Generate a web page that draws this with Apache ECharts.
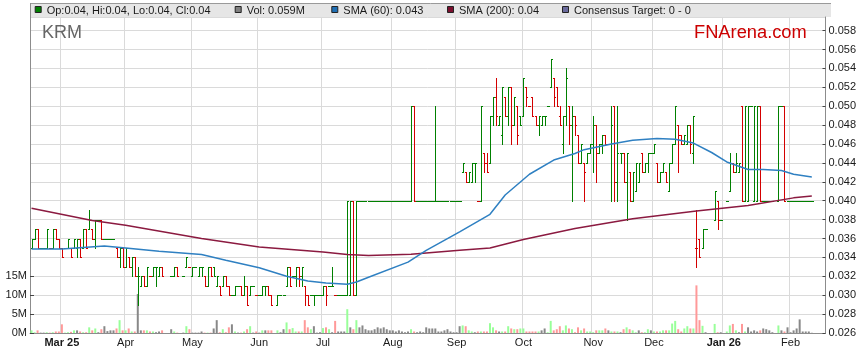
<!DOCTYPE html>
<html><head><meta charset="utf-8">
<script src="https://cdn.jsdelivr.net/npm/echarts@6/dist/echarts.min.js"></script>
<style>html,body{margin:0;padding:0;background:#fff}#c{width:859px;height:363px}</style>
</head><body><div id="c"></div>
<script>
// ---- data ----
const firstTradingSlot = '2025-02-17';   // first weekday slot on the x axis
const slotCount = 262;                     // weekday slots shown
const monthTickLabels = ['Mar 25','Apr','May','Jun','Jul','Aug','Sep','Oct','Nov','Dec','Jan 26','Feb'];
const boldTickLabels = ['Mar 25','Jan 26'];
const volumeTickValues = [0, 5, 10, 15];   // millions

// [open, high, low, close] per weekday slot, null = no trading
const priceBars = [
/*0*/ [.035,.036,.035,.036],[.036,.037,.036,.037],[.037,.037,.035,.035],[.035,.035,.035,.035],[.035,.035,.035,.035],
/*5*/ [.035,.037,.035,.037],[.035,.035,.035,.035],[.035,.037,.035,.037],[.037,.037,.036,.036],[.036,.036,.035,.035],
/*10*/[.035,.035,.034,.034],[.035,.035,.035,.035],[.035,.036,.035,.036],[.035,.035,.034,.034],[.035,.036,.035,.036],
/*15*/[.035,.036,.034,.036],[.036,.036,.034,.034],[.035,.037,.035,.037],[.037,.037,.035,.035],[.037,.039,.037,.038],
/*20*/[.037,.037,.036,.036],[.036,.038,.035,.038],[.038,.038,.038,.038],[.038,.038,.036,.036],[.036,.036,.036,.036],
/*25*/[.036,.036,.036,.036],[.036,.036,.036,.036],[.036,.036,.036,.036],[.035,.035,.034,.034],[.034,.035,.033,.035],
/*30*/[.035,.035,.033,.033],[.033,.035,.033,.035],[.034,.034,.033,.033],[.033,.034,.032,.034],[.034,.034,.032,.032],
/*35*/[.032,.033,.029,.032],[.031,.032,.031,.032],[.032,.032,.031,.031],[.031,.033,.031,.033],[.032,.032,.032,.032],
/*40*/[.032,.033,.032,.033],[.033,.033,.031,.033],[.032,.033,.032,.033],[.033,.033,.032,.032],null,
/*45*/null,[.032,.032,.032,.032],[.032,.033,.032,.033],[.033,.033,.032,.032],null,
/*50*/[.032,.032,.032,.032],[.033,.034,.033,.034],[.033,.033,.033,.033],[.032,.033,.032,.033],[.033,.033,.033,.033],
/*55*/[.032,.033,.032,.033],[.033,.033,.032,.033],[.032,.032,.031,.031],[.031,.033,.031,.033],[.033,.033,.032,.032],
/*60*/[.033,.033,.032,.032],[.031,.032,.031,.032],[.031,.031,.030,.030],[.031,.032,.031,.032],[.032,.032,.031,.031],
/*65*/[.031,.031,.030,.030],[.030,.030,.030,.030],[.030,.031,.030,.031],[.031,.031,.031,.031],[.031,.031,.030,.030],
/*70*/[.030,.032,.030,.031],[.031,.031,.029,.029],[.030,.031,.030,.031],[.031,.031,.031,.031],[.030,.030,.030,.030],
/*75*/[.030,.030,.030,.030],[.030,.031,.030,.031],[.031,.031,.030,.031],[.031,.031,.030,.030],[.030,.030,.029,.029],
/*80*/null,[.029,.030,.029,.030],[.030,.030,.030,.030],[.030,.030,.030,.030],[.031,.033,.031,.033],
/*85*/[.033,.033,.031,.031],[.032,.032,.032,.032],[.032,.033,.031,.033],[.033,.033,.031,.032],[.032,.033,.031,.033],
/*90*/[.031,.031,.029,.030],[.030,.030,.029,.029],[.030,.030,.030,.030],[.030,.030,.029,.030],[.030,.030,.030,.030],
/*95*/[.030,.030,.030,.030],[.030,.031,.030,.031],[.031,.031,.029,.030],[.031,.031,.031,.031],[.031,.033,.031,.031],
/*100*/[.030,.030,.030,.030],[.030,.030,.030,.030],[.030,.030,.030,.030],[.030,.030,.030,.030],[.030,.040,.030,.040],
/*105*/[.030,.040,.030,.040],[.040,.040,.030,.030],[.030,.040,.030,.040],[.040,.040,.040,.040],[.040,.040,.040,.040],
/*110*/[.040,.040,.040,.040],[.040,.040,.040,.040],[.040,.040,.040,.040],[.040,.040,.040,.040],[.040,.040,.040,.040],
/*115*/[.040,.040,.040,.040],[.040,.040,.040,.040],[.040,.040,.040,.040],[.040,.040,.040,.040],[.040,.040,.040,.040],
/*120*/[.040,.040,.040,.040],[.040,.040,.040,.040],[.040,.040,.040,.040],[.040,.040,.040,.040],[.040,.040,.040,.040],
/*125*/[.040,.050,.040,.050],[.050,.050,.040,.040],[.040,.040,.040,.040],[.040,.040,.040,.040],[.040,.040,.040,.040],
/*130*/[.040,.040,.040,.040],[.040,.040,.040,.040],[.040,.040,.040,.040],[.040,.050,.040,.040],[.040,.040,.040,.040],
/*135*/[.040,.040,.040,.040],[.040,.040,.040,.040],[.040,.040,.040,.040],[.040,.040,.040,.040],[.040,.040,.040,.040],
/*140*/[.040,.040,.040,.040],[.040,.040,.040,.040],[.043,.044,.043,.044],[.043,.043,.042,.042],[.042,.043,.042,.043],
/*145*/[.042,.044,.042,.044],[.044,.044,.042,.044],[.040,.040,.040,.040],[.040,.050,.040,.050],[.045,.045,.043,.044],
/*150*/[.044,.045,.043,.043],[.044,.049,.044,.049],[.049,.051,.048,.051],[.051,.053,.048,.049],[.048,.049,.048,.049],
/*155*/[.047,.052,.046,.052],[.051,.051,.049,.049],[.049,.052,.048,.052],[.052,.052,.046,.048],[.048,.051,.048,.051],
/*160*/[.050,.050,.046,.047],[.049,.049,.048,.048],[.049,.053,.049,.053],[.052,.052,.050,.051],[.050,.050,.050,.050],
/*165*/[.051,.051,.049,.049],[.049,.049,.048,.048],[.048,.049,.047,.049],[.048,.049,.048,.049],[.049,.049,.048,.049],
/*170*/[.050,.050,.050,.050],[.052,.055,.052,.055],[.053,.053,.050,.051],[.052,.052,.050,.050],[.049,.050,.048,.048],
/*175*/[.046,.049,.045,.049],[.049,.054,.048,.053],[.050,.050,.046,.048],[.048,.050,.040,.049],[.049,.049,.047,.048],
/*180*/[.047,.047,.044,.044],[.044,.046,.044,.046],[.044,.044,.040,.043],[.044,.045,.044,.045],[.045,.046,.045,.046],
/*185*/[.046,.049,.043,.048],[.048,.048,.042,.045],[.045,.046,.045,.046],[.046,.047,.045,.047],[.047,.047,.046,.046],
/*190*/[.046,.046,.046,.046],[.046,.050,.040,.048],[.050,.050,.040,.042],[.042,.050,.040,.045],[.045,.045,.044,.045],
/*195*/[.045,.045,.042,.042],[.042,.045,.038,.045],[.043,.043,.040,.040],[.040,.043,.040,.043],[.041,.044,.041,.044],
/*200*/[.042,.044,.042,.044],[.045,.045,.043,.043],[.043,.044,.043,.044],[.044,.045,.043,.045],[.045,.045,.045,.045],
/*205*/[.045,.046,.045,.046],[.044,.044,.042,.042],[.042,.043,.042,.043],[.043,.044,.043,.044],[.043,.043,.042,.042],
/*210*/[.041,.044,.041,.044],[.044,.046,.044,.046],[.046,.050,.046,.050],[.048,.048,.043,.047],[.047,.047,.046,.046],
/*215*/[.046,.047,.046,.047],[.046,.048,.046,.048],[.048,.048,.045,.046],[.045,.049,.044,.049],[.035,.039,.033,.035],
/*220*/[.036,.036,.034,.034],[.035,.037,.035,.037],[.037,.037,.037,.037],null,null,
/*225*/[.038,.041,.038,.041],[.040,.040,.037,.038],[.038,.038,.038,.038],null,[.040,.040,.040,.040],
/*230*/[.041,.045,.041,.044],[.044,.044,.043,.043],[.043,.045,.043,.044],[.043,.044,.043,.044],[.050,.050,.040,.040],
/*235*/[.040,.050,.040,.050],[.040,.050,.040,.050],[.050,.050,.050,.050],[.040,.050,.040,.050],[.040,.050,.040,.050],
/*240*/[.050,.050,.040,.040],[.040,.040,.040,.040],[.040,.040,.040,.040],[.040,.040,.040,.040],[.040,.040,.040,.040],
/*245*/null,[.040,.050,.040,.050],[.050,.050,.050,.050],[.050,.050,.040,.040],[.040,.040,.040,.040],
/*250*/[.040,.040,.040,.040],[.040,.040,.040,.040],[.040,.040,.040,.040],[.040,.040,.040,.040],[.040,.040,.040,.040],
/*255*/[.040,.040,.040,.040],[.040,.040,.040,.040],[.040,.040,.040,.040]
];

// volume in millions of shares per slot
const volumes = [
/*0*/  0.7,0.2,0.7,0.1,0.1,0.2,0.1,0.2,0.4,0.4,
/*10*/ 2.3,0.1,0.2,0.3,0.7,0.7,0.4,0.2,0.2,1.5,
/*20*/ 0.7,1.2,0.2,1.0,1.8,0.5,0.7,0.7,1.2,3.4,
/*30*/ 0.7,0.7,1.2,0.4,0.4,10.3,0.7,0.7,0.7,0.4,
/*40*/ 0.4,0.2,0.4,0.7,null,null,1.0,0.4,0.1,null,
/*50*/ 0.1,1.8,1.0,0.1,0.1,0.1,0.4,0.1,0.1,0.1,
/*60*/ 1.2,3.4,0.2,1.0,0.2,1.5,2.3,0.4,0.1,0.1,
/*70*/ 0.4,1.0,1.8,0.1,0.4,0.1,0.7,0.7,0.7,0.7,
/*80*/ null,0.7,0.2,1.0,2.8,1.0,1.3,0.4,0.4,0.4,
/*90*/ 3.4,1.5,1.0,1.8,0.1,0.2,1.3,1.5,1.0,0.2,
/*100*/3.2,0.4,0.4,0.4,6.3,1.5,1.0,3.4,1.5,2.0,
/*110*/1.0,0.7,0.7,1.0,1.5,1.2,1.5,1.0,0.7,0.7,
/*120*/0.4,0.7,0.4,0.2,0.4,1.0,0.4,0.2,0.4,0.2,
/*130*/1.5,1.2,1.2,1.2,0.4,0.4,0.7,1.0,0.4,0.2,
/*140*/0.2,1.8,2.0,1.8,0.7,0.4,0.2,0.4,0.4,0.4,
/*150*/0.4,2.6,1.5,0.7,0.4,0.4,0.4,1.8,1.2,1.0,
/*160*/1.0,1.2,1.2,0.4,0.4,0.4,0.4,0.4,0.7,1.2,
/*170*/0.2,3.2,0.7,1.0,1.8,0.7,2.0,1.2,1.0,0.2,
/*180*/1.5,0.7,1.2,0.4,0.4,0.2,0.7,0.7,0.7,1.2,
/*190*/0.7,0.4,0.4,0.4,0.2,1.0,1.5,1.0,0.7,0.2,
/*200*/0.7,0.2,0.2,1.0,0.7,0.4,0.4,0.4,0.7,0.7,
/*210*/0.7,2.5,3.2,1.0,0.4,1.2,1.8,1.2,1.2,12.6,
/*220*/3.4,1.9,0.2,null,null,2.4,0.2,0.2,null,0.4,
/*230*/2.0,2.4,0.7,0.2,2.4,0.4,1.5,0.4,0.7,0.4,
/*240*/0.7,1.2,1.0,0.7,0.2,null,2.0,0.7,0.4,1.5,
/*250*/0.2,0.7,1.2,3.6,0.4,0.4,0.4,0.06
];

// moving averages: [slot index, value]
const sma60 = [[0,.0349],[10,.0349],[24,.0352],[31,.0350],[42,.03465],[56,.0343],[64,.0337],[75,.0329],
  [84,.0320],[91,.0315],[97,.0313],[104,.03115],[107,.0314],[111,.0319],[124,.0335],[130,.03475],[141,.0367],
  [151,.03856],[156,.0406],[164,.0428],[172,.0443],[179,.0450],[182,.0454],[191,.0460],[198,.0464],[206,.04657],
  [212,.0465],[218,.0461],[224,.0451],[229,.0441],[236,.0433],[241,.0433],[247,.0432],[251,.0428],[257,.0425]];
const sma200 = [[0,.0392],[20,.0379],[31,.0374],[56,.0360],[75,.0351],[96,.03457],[104,.0343],[111,.0342],
  [125,.03433],[141,.03475],[151,.0350],[162,.0359],[179,.03705],[198,.0381],[219,.0389],[236,.0395],
  [251,.0403],[257,.0405]];

if (priceBars.length !== 258) throw new Error('priceBars length ' + priceBars.length);
if (volumes.length !== 258) throw new Error('volumes length ' + volumes.length);

// ---- build ----
const categories = [];
(function () {
  const d = new Date(firstTradingSlot + 'T00:00:00Z');
  while (categories.length < slotCount) {
    const wd = d.getUTCDay();
    if (wd !== 0 && wd !== 6) categories.push(d.toISOString().slice(0, 10));
    d.setUTCDate(d.getUTCDate() + 1);
  }
})();
const labelAt = {};
(function () {
  let m = 0;
  for (let i = 1; i < categories.length; i++) {
    if (categories[i].slice(5, 7) !== categories[i - 1].slice(5, 7) && m < monthTickLabels.length) {
      labelAt[i] = monthTickLabels[m++];
    }
  }
})();

const GREEN = '#008000', RED = '#d40000';
const VOL_UP = '#99ff99', VOL_DOWN = '#ff9999', VOL_FLAT = '#888888';
const ohlcData = [];
const volData = [];
let prevClose = null;
priceBars.forEach((b, i) => {
  if (!b) { volData.push(null); return; }
  const [o, h, l, c] = b;
  const ref = prevClose === null ? o : prevClose;
  const dir = c > ref ? 1 : (c < ref ? -1 : 0);
  prevClose = c;
  ohlcData.push([i, o, h, l, c, dir]);
  const v = volumes[i];
  volData.push(v == null ? null : {
    value: v,
    itemStyle: { color: dir > 0 ? VOL_UP : (dir < 0 ? VOL_DOWN : VOL_FLAT) }
  });
});

function renderOhlc(params, api) {
  const i = api.value(0);
  const o = api.value(1), h = api.value(2), l = api.value(3), c = api.value(4);
  const color = api.value(5) < 0 ? RED : GREEN;
  const pHi = api.coord([i, h]);
  const pLo = api.coord([i, l]);
  const yo = Math.round(api.coord([i, o])[1]) + 0.5;
  const yc = Math.round(api.coord([i, c])[1]) + 0.5;
  const half = api.size([1, 0])[0] / 2;
  const x = Math.round(pHi[0]) + 0.5;
  const style = { stroke: color, lineWidth: 1 };
  return {
    type: 'group',
    children: [
      { type: 'line', shape: { x1: x, y1: Math.round(pHi[1]), x2: x, y2: Math.round(pLo[1]) + 1 }, style },
      { type: 'line', shape: { x1: x - half, y1: yo, x2: x, y2: yo }, style },
      { type: 'line', shape: { x1: x, y1: yc, x2: x + half, y2: yc }, style }
    ]
  };
}

const FONT = '"Liberation Sans", Arial, sans-serif';
const GRID = { left: 30, right: 28, top: 17, bottom: 30 };
const PLOT_W = 859 - GRID.left - GRID.right;

const legendItems = [
  { x: 46.7, color: GREEN, text: 'Op:0.04, Hi:0.04, Lo:0.04, Cl:0.04' },
  { x: 246.7, color: '#808080', text: 'Vol: 0.059M' },
  { x: 343.3, color: '#1f6fb4', text: 'SMA (60): 0.043' },
  { x: 459, color: '#7a0f2e', text: 'SMA (200): 0.04' },
  { x: 574, color: '#6a6a9c', text: 'Consensus Target: 0 - 0' }
];
const graphics = [
  { type: 'rect', shape: { x: GRID.left, y: 3, width: PLOT_W, height: 14 }, style: { fill: '#e6e6e6' }, z: 0 },
  { type: 'line', shape: { x1: GRID.left, y1: 3.5, x2: GRID.left + PLOT_W, y2: 3.5 }, style: { stroke: '#9a9a9a', lineWidth: 1 } },
  { type: 'line', shape: { x1: GRID.left + 0.5, y1: 3, x2: GRID.left + 0.5, y2: 17 }, style: { stroke: '#8c8c8c', lineWidth: 1 } },
  { type: 'text', x: 42, y: 33, style: { text: 'KRM', fill: '#666666', font: '18px ' + FONT, verticalAlign: 'middle' }, z: 10 },
  { type: 'text', x: 694, y: 33, style: { text: 'FNArena.com', fill: '#cc0000', font: '18.3px ' + FONT, verticalAlign: 'middle' }, z: 10 }
];
legendItems.forEach(it => {
  graphics.push({ type: 'rect', shape: { x: it.x - 11.5, y: 6.5, width: 6, height: 6 },
    style: { fill: it.color, stroke: '#222', lineWidth: 1 }, z: 10 });
  graphics.push({ type: 'text', x: it.x, y: 10.5,
    style: { text: it.text, fill: '#1a1a1a', font: '11px ' + FONT, verticalAlign: 'middle' }, z: 10 });
});

const chart = echarts.init(document.getElementById('c'), null, { renderer: 'canvas' });
chart.setOption({
  animation: false,
  backgroundColor: '#ffffff',
  textStyle: { fontFamily: FONT },
  grid: GRID,
  graphic: graphics,
  xAxis: {
    type: 'category',
    data: categories,
    boundaryGap: true,
    axisLine: { lineStyle: { color: '#8c8c8c' } },
    axisTick: { show: false },
    axisLabel: {
      interval: (i) => labelAt[i] !== undefined,
      formatter: (v, i) => {
        const t = labelAt[i] || '';
        return boldTickLabels.includes(t) ? '{b|' + t + '}' : t;
      },
      margin: 4, fontSize: 11, color: '#1a1a1a', fontFamily: FONT,
      rich: { b: { fontWeight: 'bold', fontSize: 11, color: '#1a1a1a', fontFamily: FONT } }
    },
    splitLine: { show: true, interval: (i) => labelAt[i] !== undefined, lineStyle: { color: '#dadada' } }
  },
  yAxis: [
    {
      type: 'value', position: 'right', min: 0.026, max: 0.05944, interval: 0.002,
      axisLine: { show: true, lineStyle: { color: '#8c8c8c' } },
      axisTick: { show: true, inside: true, length: 3, lineStyle: { color: '#444' } },
      axisLabel: { showMaxLabel: false, formatter: v => v.toFixed(3), fontSize: 11, color: '#1a1a1a', margin: 3, fontFamily: FONT },
      splitLine: { show: true, lineStyle: { color: '#dadada' } }
    },
    {
      type: 'value', position: 'left', min: 0, max: 316 / 18.9 * 5, interval: 5,
      axisLine: { show: true, lineStyle: { color: '#8c8c8c' } },
      axisTick: { show: true, inside: true, length: 4, customValues: volumeTickValues, lineStyle: { color: '#444' } },
      axisLabel: { customValues: volumeTickValues, formatter: v => Math.round(v) + 'M', fontSize: 11, color: '#1a1a1a', margin: 3, fontFamily: FONT },
      splitLine: { show: false }
    }
  ],
  series: [
    { type: 'bar', yAxisIndex: 1, data: volData, barWidth: 2, z: 1, silent: true },
    {
      type: 'custom', yAxisIndex: 0, data: ohlcData, renderItem: renderOhlc, clip: true, z: 2,
      encode: { x: 0, y: [1, 2, 3, 4] }, silent: true
    },
    { type: 'line', yAxisIndex: 0, data: sma200, showSymbol: false, symbol: 'none', z: 3,
      lineStyle: { color: '#8b1a40', width: 1.5 }, silent: true },
    { type: 'line', yAxisIndex: 0, data: sma60, showSymbol: false, symbol: 'none', z: 3,
      lineStyle: { color: '#2f80c2', width: 1.5 }, silent: true }
  ]
});
</script>
</body></html>
